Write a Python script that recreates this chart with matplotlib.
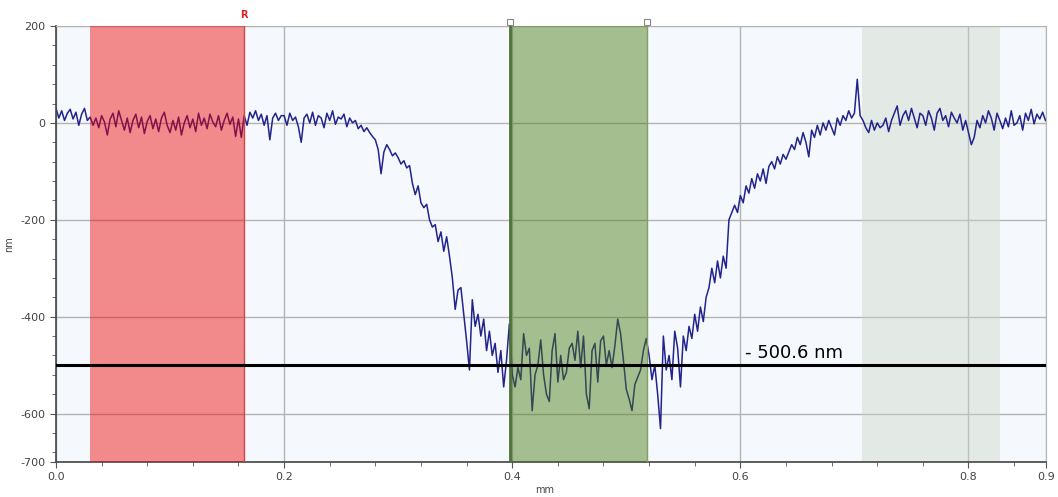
import numpy as np
import matplotlib
matplotlib.use("Agg")
import matplotlib.pyplot as plt
from matplotlib.ticker import MultipleLocator

plt.rcParams["axes.unicode_minus"] = False

# Profile height (nm), every 0.0025 mm
seg_a = [30, 10, 25, 5, 20, 28, 8, 22, -5, 18, 30, 5, 12, -5, 10, -10, 15, 2, -25, 8,
         20, -8, 25, 5, -15, 10, -20, 5, 18, -10, 12, -22, 3, 15, -12, 8, -18, 10, 22, -5]
seg_b = [-20, 5, -15, 12, -25, 0, 15, -10, 8, -18, 20, -5, 10, -12, 18, 2, -8, 15, -15, 5,
         20, -3, 12, -28, 8, -30, 15, -5, 22, 10, 25, 5, 18, -5, 15, -35, 10, 20, 5, 15]
seg_c = [15, -5, 20, 5, 12, -8, -40, 10, 18, 0, 22, -5, 15, 10, -10, 20, 5, 25, -3, 12,
         8, 18, -8, 10, 0, 5, -12, -5, -18, -10, -20, -28, -35, -55, -105, -60, -45, -55, -68, -62]
seg_d = [-72, -85, -78, -93, -88, -125, -148, -130, -165, -175, -168, -200, -215, -210, -245,
         -225, -265, -235, -275, -320, -385, -345, -340, -395, -450, -510, -365, -420, -395, -440,
         -405, -470, -430, -480, -455, -515, -470, -545, -490, -415]
seg_e = [-520, -545, -505, -530, -435, -480, -465, -594, -520, -500, -448, -520, -560, -575, -470,
         -435, -535, -480, -530, -515, -465, -455, -490, -430, -505, -440, -560, -590, -470, -455,
         -535, -450, -440, -500, -470, -505, -460, -405, -435, -490]
seg_f = [-550, -570, -594, -540, -525, -510, -470, -445, -480, -530, -500, -560, -631, -440, -510,
         -480, -530, -430, -465, -545, -440, -470, -420, -445, -395, -430, -380, -410, -360, -340,
         -300, -330, -285, -320, -275, -300, -200, -185, -170, -185]
seg_g = [-150, -165, -130, -145, -115, -135, -105, -120, -95, -125, -90, -80, -95, -70, -85,
         -65, -75, -60, -45, -55, -30, -45, -20, -40, -70, -15, -30, -5, -25, 0,
         -15, 5, -10, -25, 10, -5, 15, 5, 25, 10]
seg_h = [20, 90, 15, 5, -10, -20, 5, -15, 0, -10, -5, 10, -18, 5, 20, 35, -5, 15, 25, 5,
         30, 10, -10, 20, 15, -5, 25, 10, -15, 20, 30, 5, 15, -8, 22, 10, 0, 18, -15, 5]
seg_i = [-20, -45, -30, 5, -10, 15, 0, 25, 10, -15, 20, 5, -12, 10, -8, 25, -5, 0, 15, -15,
         20, 5, 28, -2, 18, 8, 22, 5]

step_mm = 0.0025
depth_nm = -500.6
red_zone = (0.030, 0.165)
green_zone = (0.398, 0.518)
grey_zone = (0.707, 0.828)
x_end = 0.868

profile = np.array(seg_a + seg_b + seg_c + seg_d + seg_e + seg_f + seg_g + seg_h + seg_i, dtype=float)
x = np.arange(len(profile)) * step_mm

fig = plt.figure(figsize=(10.58, 4.97), dpi=100)
ax = fig.add_axes([0.0529, 0.0704, 0.9358, 0.8773])
ax.set_facecolor("#f5f9fd")

# grid first, then trace; red/green zones go on top of the trace
ax.grid(True, which="major", color="#b4b4b4", linewidth=1.0)
ax.set_axisbelow(True)
ax.axvspan(*grey_zone, color="#c8d4c3", alpha=0.4, linewidth=0, zorder=1.5)
ax.plot(x, profile, color="#23238c", linewidth=1.1, zorder=2)

ax.axvspan(*red_zone, color="#f00200", alpha=0.45, linewidth=0, zorder=3)
ax.axvline(red_zone[1], color="#c84848", linewidth=1.0, zorder=3)
ax.axvspan(*green_zone, color="#45760d", alpha=0.45, linewidth=0, zorder=3)
ax.axvline(green_zone[0], color="#4f7038", linewidth=2.0, zorder=3)
ax.axvline(green_zone[1], color="#7fa060", linewidth=1.0, zorder=3)

# step depth line
ax.axhline(depth_nm, color="black", linewidth=2.2, zorder=4)
ax.text(0.604, depth_nm + 8, f"- {abs(depth_nm)} nm", fontsize=13, color="black",
        va="bottom", ha="left", zorder=5)

# markers above the green zone and the "R" label
for xm in green_zone:
    ax.plot(xm, 208, marker="s", markersize=4, markerfacecolor="white",
            markeredgecolor="#888888", markeredgewidth=0.8, clip_on=False, zorder=6)
ax.text(red_zone[1], 213, "R", color="#e02020", fontsize=7, fontweight="bold",
        ha="center", va="bottom", clip_on=False)

ax.set_xlim(0, x_end)
ax.set_ylim(-700, 200)
ax.set_xticks([0.0, 0.2, 0.4, 0.6, 0.8, x_end])
ax.set_xticklabels(["0.0", "0.2", "0.4", "0.6", "0.8", "0.9"])
ax.xaxis.set_minor_locator(MultipleLocator(0.04))
ax.set_yticks([200, 0, -200, -400, -600, -700])
ax.yaxis.set_minor_locator(MultipleLocator(40))
ax.tick_params(which="both", labelsize=8, labelcolor="#444444", color="#555555")
ax.tick_params(which="major", length=4)
ax.tick_params(which="minor", length=3)

for side in ("left", "bottom"):
    ax.spines[side].set_color("#444444")
    ax.spines[side].set_linewidth(1.2)
for side in ("top", "right"):
    ax.spines[side].set_color("#b4b4b4")

ax.set_xlabel("mm", fontsize=7, color="#444444")
ax.set_ylabel("nm", fontsize=7, color="#444444")
ax.xaxis.set_label_coords(0.494, -0.052)
ax.yaxis.set_label_coords(-0.042, 0.5)

fig.savefig("out.png", dpi=100)
